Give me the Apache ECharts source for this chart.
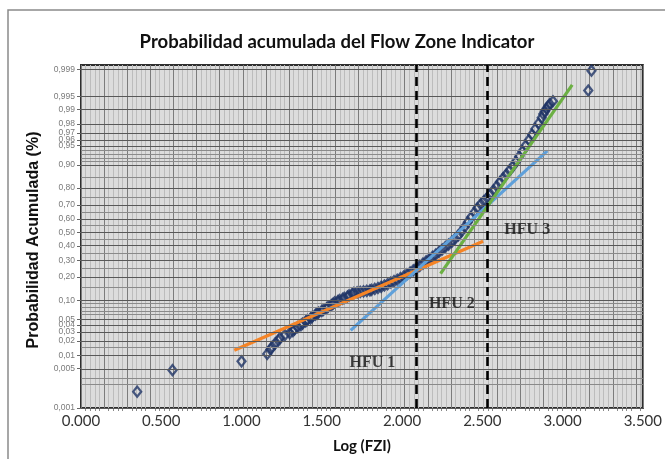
<!DOCTYPE html>
<html>
<head>
<meta charset="utf-8">
<script src="https://cdn.jsdelivr.net/npm/echarts@6/dist/echarts.min.js"></script>
<style>
  html, body { margin: 0; padding: 0; background: #ffffff; }
  #chart { width: 665px; height: 459px; }
</style>
</head>
<body>
<div id="chart"></div>
<script>
// Cumulative probability of Log(FZI), plotted on normal-probability paper.

// Measured samples: Log(FZI) and their cumulative probability
const logFZI = [
  0.35, 0.57, 1.00, 1.16, 1.18, 1.19, 1.21, 1.23, 1.24, 1.27,
  1.30, 1.32, 1.33, 1.35, 1.37, 1.38, 1.40, 1.41, 1.43, 1.44,
  1.46, 1.47, 1.48, 1.50, 1.51, 1.53, 1.54, 1.56, 1.57, 1.58,
  1.60, 1.61, 1.63, 1.64, 1.66, 1.67, 1.69, 1.70, 1.72, 1.74,
  1.76, 1.78, 1.80, 1.81, 1.83, 1.85, 1.87, 1.89, 1.91, 1.93,
  1.95, 1.97, 1.99, 2.01, 2.03, 2.05, 2.07, 2.09, 2.11, 2.13,
  2.15, 2.17, 2.19, 2.21, 2.23, 2.25, 2.27, 2.29, 2.31, 2.33,
  2.35, 2.37, 2.39, 2.41, 2.43, 2.45, 2.47, 2.49, 2.51, 2.53,
  2.55, 2.57, 2.59, 2.61, 2.63, 2.65, 2.67, 2.69, 2.71, 2.73,
  2.75, 2.77, 2.79, 2.81, 2.83, 2.85, 2.87, 2.88, 2.89, 2.90,
  2.91, 2.92, 2.94, 3.16, 3.18
];
const cumProb = [
  0.0013, 0.0046, 0.0074, 0.0108, 0.0135, 0.0152, 0.0180, 0.0205, 0.0232, 0.0262,
  0.0285, 0.0310, 0.0335, 0.0368, 0.0400, 0.0425, 0.0462, 0.0490, 0.0520, 0.0550,
  0.0600, 0.0625, 0.0650, 0.0690, 0.0715, 0.0760, 0.0800, 0.0850, 0.0890, 0.0935,
  0.0975, 0.1010, 0.1050, 0.1080, 0.1130, 0.1170, 0.1230, 0.1270, 0.1290, 0.1310,
  0.1330, 0.1350, 0.1370, 0.1390, 0.1430, 0.1470, 0.1520, 0.1580, 0.1640, 0.1720,
  0.1790, 0.1860, 0.1940, 0.2030, 0.2140, 0.2250, 0.2380, 0.2500, 0.2640, 0.2780,
  0.2930, 0.3080, 0.3230, 0.3390, 0.3560, 0.3740, 0.3920, 0.4100, 0.4300, 0.4530,
  0.4780, 0.5080, 0.5420, 0.5780, 0.6130, 0.6480, 0.6780, 0.7040, 0.7250, 0.7450,
  0.7660, 0.7880, 0.8100, 0.8300, 0.8490, 0.8650, 0.8800, 0.8950, 0.9100, 0.9250,
  0.9380, 0.9500, 0.9600, 0.9680, 0.9750, 0.9805, 0.9850, 0.9875, 0.9890, 0.9905,
  0.9915, 0.9925, 0.9935, 0.9964, 0.9989
];

// Straight-line fits for each hydraulic flow unit (end points)
const hfu1X = [0.955, 2.505], hfu1P = [0.013, 0.434];
const hfu2X = [1.68, 2.905],  hfu2P = [0.032, 0.939];
const hfu3X = [2.24, 3.06],   hfu3P = [0.218, 0.9974];

// Unit boundaries (Log FZI)
const boundaries = [2.09, 2.53];

// Unit annotations
const unitNames = ['HFU 1', 'HFU 2', 'HFU 3'];
const unitX = [1.815, 2.31, 2.78];
const unitP = [0.0069, 0.0876, 0.519];

// Probability-paper scale
const probTicks = [0.001, 0.005, 0.01, 0.02, 0.03, 0.04, 0.05, 0.10, 0.20, 0.30, 0.40, 0.50,
                   0.60, 0.70, 0.80, 0.90, 0.95, 0.96, 0.97, 0.98, 0.99, 0.995, 0.999];
const probTickLabels = ['0,001', '0,005', '0,01', '0,02', '0,03', '0,04', '0,05', '0,10', '0,20', '0,30', '0,40', '0,50',
                        '0,60', '0,70', '0,80', '0,90', '0,95', '0,96', '0,97', '0,98', '0,99', '0,995', '0,999'];
const probMinor = [0.002, 0.003, 0.015, 0.06, 0.07, 0.08, 0.09, 0.15, 0.25, 0.35, 0.45, 0.55,
                   0.65, 0.75, 0.85, 0.91, 0.92, 0.93, 0.94];
const xTickStep = 0.5;

// Paper extent, in standard-normal units; the lower edge of the sheet is the 0,001 line
const Y_MIN = -3.32, Y_MAX = 3.17;

// Inverse standard normal CDF (Acklam's rational approximation)
function probit(p) {
  const a = [-3.969683028665376e+01, 2.209460984245205e+02, -2.759285104469687e+02,
             1.383577518672690e+02, -3.066479806614716e+01, 2.506628277459239e+00];
  const b = [-5.447609879822406e+01, 1.615858368580409e+02, -1.556989798598866e+02,
             6.680131188771972e+01, -1.328068155288572e+01];
  const c = [-7.784894002430293e-03, -3.223964580411365e-01, -2.400758277161838e+00,
             -2.549671039919412e+00, 4.374664141464968e+00, 2.938163982698783e+00];
  const d = [7.784695709041462e-03, 3.224671290700398e-01, 2.445134137142996e+00,
             3.754408661907416e+00];
  const pl = 0.02425, ph = 1 - pl;
  let q, r;
  if (p < pl) {
    q = Math.sqrt(-2 * Math.log(p));
    return (((((c[0]*q+c[1])*q+c[2])*q+c[3])*q+c[4])*q+c[5]) / ((((d[0]*q+d[1])*q+d[2])*q+d[3])*q+1);
  }
  if (p > ph) {
    q = Math.sqrt(-2 * Math.log(1 - p));
    return -(((((c[0]*q+c[1])*q+c[2])*q+c[3])*q+c[4])*q+c[5]) / ((((d[0]*q+d[1])*q+d[2])*q+d[3])*q+1);
  }
  q = p - 0.5; r = q * q;
  return (((((a[0]*r+a[1])*r+a[2])*r+a[3])*r+a[4])*r+a[5])*q / (((((b[0]*r+b[1])*r+b[2])*r+b[3])*r+b[4])*r+1);
}

// Where a probability line sits on the sheet
function paperPos(p) {
  if (p <= 0.001) return Y_MIN;
  return probit(p);
}

const tickPos = probTicks.map(paperPos);
function tickLabel(v) {
  let best = 0;
  for (let i = 1; i < tickPos.length; i++) {
    if (Math.abs(tickPos[i] - v) < Math.abs(tickPos[best] - v)) best = i;
  }
  return probTickLabels[best];
}

const samples = logFZI.map((x, i) => [x, probit(cumProb[i])]);
const fit = (xs, ps) => xs.map((x, i) => [x, probit(ps[i])]);

const chart = echarts.init(document.getElementById('chart'), null, { renderer: 'canvas' });

chart.setOption({
  backgroundColor: '#ffffff',
  animation: false,
  grid: {
    left: 81, right: 17, top: 65, bottom: 47,
    show: true,
    backgroundColor: '#dcdcdc',
    borderColor: '#2e2e2e',
    borderWidth: 2
  },
  xAxis: [
    {
      type: 'value',
      min: 0, max: 3.5, interval: xTickStep,
      name: 'Log (FZI)',
      nameLocation: 'middle',
      nameGap: 31,
      nameTextStyle: { fontFamily: 'Lato', fontWeight: 'bold', fontSize: 15, color: '#111' },
      axisLine: { show: false },
      axisTick: { show: false },
      splitLine: { show: false },
      axisLabel: {
        margin: 6,
        fontFamily: 'Lato', fontSize: 15, color: '#333',
        formatter: v => v.toFixed(3)
      }
    },
    {
      // ruling of the probability sheet
      type: 'value',
      position: 'bottom',
      min: 0, max: 24.3, interval: 1,
      axisLine: { show: false },
      axisLabel: { show: false },
      axisTick: { show: false },
      minorTick: { show: true, splitNumber: 5, length: 3, lineStyle: { color: '#888' } },
      splitLine: { show: true, lineStyle: { color: '#7c7c7c', width: 1 } },
      minorSplitLine: { show: true, lineStyle: { color: '#bcbcbc', width: 1 } }
    }
  ],
  yAxis: {
    type: 'value',
    min: Y_MIN, max: Y_MAX,
    axisLine: { show: false },
    splitLine: { show: false },
    axisTick: {
      show: true, length: 4, inside: false,
      customValues: tickPos,
      lineStyle: { color: '#666' }
    },
    axisLabel: {
      customValues: tickPos,
      margin: 6,
      fontFamily: 'Liberation Sans', fontSize: 8.5, color: '#7a7a7a',
      formatter: v => tickLabel(v)
    }
  },
  series: [
    {
      // horizontal probability rulings
      type: 'scatter',
      silent: true,
      z: 1,
      symbolSize: 0,
      data: [[0, 0]],
      markLine: {
        silent: true,
        symbol: 'none',
        label: { show: false },
        animation: false,
        data: probTicks.map(p => ({ yAxis: paperPos(p), lineStyle: { color: '#585858', width: 1, type: 'solid' } }))
          .concat(probMinor.map(p => ({ yAxis: paperPos(p), lineStyle: { color: '#8a8a8a', width: 1, type: 'solid' } })))
      }
    },
    {
      // unit boundaries
      type: 'scatter',
      silent: true,
      z: 2,
      symbolSize: 0,
      data: [[0, 0]],
      markLine: {
        silent: true,
        symbol: 'none',
        label: { show: false },
        animation: false,
        lineStyle: { color: '#000', width: 2.6, type: [9, 5] },
        data: boundaries.map(x => ({ xAxis: x }))
      }
    },
    {
      name: 'FZI',
      type: 'scatter',
      z: 3,
      symbol: 'diamond',
      symbolSize: [8, 10],
      itemStyle: { color: 'rgba(0,0,0,0)', borderColor: '#1f3466', borderWidth: 2.3 },
      data: samples
    },
    {
      name: 'HFU 1 fit',
      type: 'line', z: 4, showSymbol: false, symbol: 'none',
      lineStyle: { color: '#f58426', width: 3.2 },
      data: fit(hfu1X, hfu1P)
    },
    {
      name: 'HFU 2 fit',
      type: 'line', z: 4, showSymbol: false, symbol: 'none',
      lineStyle: { color: '#5fa0da', width: 3.2 },
      data: fit(hfu2X, hfu2P)
    },
    {
      name: 'HFU 3 fit',
      type: 'line', z: 4, showSymbol: false, symbol: 'none',
      lineStyle: { color: '#6cb043', width: 3.2 },
      data: fit(hfu3X, hfu3P)
    },
    {
      name: 'units',
      type: 'scatter', z: 5, silent: true,
      symbolSize: 0,
      label: {
        show: true, position: 'inside',
        formatter: p => unitNames[p.dataIndex],
        fontFamily: 'Liberation Serif', fontWeight: 'bold', fontSize: 16, color: '#111'
      },
      data: unitX.map((x, i) => [x, probit(unitP[i])])
    }
  ],
  graphic: [
    {
      type: 'rect', silent: true, z: -10,
      shape: { x: 8, y: 10, width: 700, height: 500 },
      style: { fill: 'none', stroke: '#8a8a8a', lineWidth: 1.5 }
    },
    {
      type: 'text', silent: true,
      x: 337, y: 42,
      style: {
        text: 'Probabilidad acumulada del Flow Zone Indicator',
        font: 'bold 18.5px Lato', fill: '#111',
        textAlign: 'center', textVerticalAlign: 'middle'
      }
    },
    {
      type: 'text', silent: true,
      x: 34, y: 240, rotation: Math.PI / 2,
      style: {
        text: 'Probabilidad Acumulada (%)',
        font: 'bold 16px "Liberation Sans"', fill: '#111',
        textAlign: 'center', textVerticalAlign: 'middle'
      }
    }
  ]
});
</script>
</body>
</html>
